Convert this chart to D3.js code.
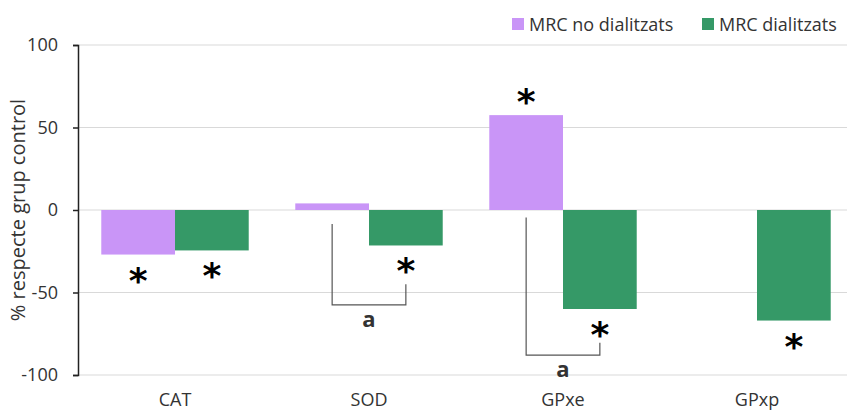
<!DOCTYPE html>
<html lang="ca">
<head>
<meta charset="UTF-8">
<title>% respecte grup control</title>
<style>
  body { margin: 0; background: #fff; }
  #chart { width: 847px; height: 413px; }
  text { font-family: "Open Sans", "DejaVu Sans", sans-serif; }
</style>
</head>
<body>
<div id="chart"></div>
<script src="https://d3js.org/d3.v7.min.js"></script>
<script>
// categories and series
const categories = ['CAT', 'SOD', 'GPxe', 'GPxp'];
const seriesNames = ['MRC no dialitzats', 'MRC dialitzats'];
const noDialitzats = [-27, 4, 57.5, null];
const dialitzats = [-24.5, -21.5, -60, -67];
const yTicks = [100, 50, 0, -50, -100];

// significance marks (* vs control) per series
const starNoDial = [true, false, true, false];
const starDial = [true, true, true, true];

// brackets "a" between series: [category, left top, right top, bottom]
const brackets = [
  ['SOD', -8.5, -45, -57.5],
  ['GPxe', -4.5, -80.5, -88]
];

const colors = ['#c995f7', '#359967'];
const textColor = '#333';

const W = 847, H = 413;
const svg = d3.select('#chart').append('svg')
  .attr('width', W).attr('height', H);

const x = d3.scaleBand().domain(categories).range([78, 854]).paddingInner(0.24).paddingOuter(0.12);
const xs = d3.scaleBand().domain(seriesNames).range([0, x.bandwidth()]);
const y = d3.scaleLinear().domain([-100, 100]).range([375, 45]);

// gridlines
svg.append('g').selectAll('line').data(yTicks).join('line')
  .attr('x1', 78).attr('x2', W)
  .attr('y1', d => y(d)).attr('y2', d => y(d))
  .attr('stroke', '#d9d9d9').attr('stroke-width', 1);

// y axis
const yAxis = svg.append('g').attr('transform', 'translate(78,0)')
  .call(d3.axisLeft(y).tickValues(yTicks).tickFormat(d => String(d)).tickSize(5).tickPadding(15));
yAxis.select('.domain').attr('stroke', '#222').attr('stroke-width', 1.5);
yAxis.selectAll('.tick line').attr('stroke', '#222').attr('stroke-width', 1.5);
yAxis.selectAll('.tick text')
  .style('font-size', '18px').style('fill', textColor)
  .style('font-family', '"Open Sans", sans-serif');

svg.append('text')
  .attr('transform', `translate(25,${y(0)}) rotate(-90)`)
  .attr('text-anchor', 'middle')
  .style('font-size', '20px').style('fill', textColor)
  .text('% respecte grup control');

// category labels
svg.append('g').selectAll('text').data(categories).join('text')
  .attr('x', d => x(d) + x.bandwidth() / 2)
  .attr('y', 406)
  .attr('text-anchor', 'middle')
  .style('font-size', '18px').style('fill', textColor)
  .text(d => d);

// bars
const series = [noDialitzats, dialitzats];
series.forEach((vals, si) => {
  const rows = categories.map((c, i) => ({ c, v: vals[i] })).filter(d => d.v !== null);
  svg.append('g').selectAll('rect').data(rows).join('rect')
    .attr('x', d => x(d.c) + xs(seriesNames[si]))
    .attr('width', xs.bandwidth())
    .attr('y', d => y(Math.max(0, d.v)))
    .attr('height', d => Math.abs(y(d.v) - y(0)))
    .attr('fill', colors[si]);
});

// asterisks
const stars = [];
[starNoDial, starDial].forEach((flags, si) => {
  flags.forEach((f, i) => {
    const v = series[si][i];
    if (f && v !== null) stars.push({ c: categories[i], s: seriesNames[si], v });
  });
});
svg.append('g').selectAll('text').data(stars).join('text')
  .attr('x', d => x(d.c) + xs(d.s) + xs.bandwidth() / 2)
  .attr('y', d => d.v > 0 ? y(d.v) - 1 : y(d.v) + 38)
  .attr('text-anchor', 'middle')
  .style('font-size', '36px')
  .style('font-weight', 'bold')
  .style('font-family', '"DejaVu Sans", sans-serif')
  .style('fill', '#000')
  .text('*');

// brackets
brackets.forEach(([c, lt, rt, bot]) => {
  const xl = x(c) + xs(seriesNames[0]) + xs.bandwidth() / 2;
  const xr = x(c) + xs(seriesNames[1]) + xs.bandwidth() / 2;
  const path = d3.path();
  path.moveTo(xl, y(lt));
  path.lineTo(xl, y(bot));
  path.lineTo(xr, y(bot));
  path.lineTo(xr, y(rt));
  svg.append('path').attr('d', path.toString())
    .attr('fill', 'none').attr('stroke', '#555').attr('stroke-width', 1.2);
  svg.append('text')
    .attr('x', (xl + xr) / 2).attr('y', y(bot) + 22)
    .attr('text-anchor', 'middle')
    .style('font-size', '22px').style('font-weight', 'bold').style('fill', textColor)
    .text('a');
});

// legend
const legend = svg.append('g').attr('transform', 'translate(512,18)');
const lx = [0, 190];
seriesNames.forEach((n, i) => {
  legend.append('rect').attr('x', lx[i]).attr('y', 0).attr('width', 12).attr('height', 12).attr('fill', colors[i]);
  legend.append('text').attr('x', lx[i] + 17).attr('y', 13)
    .style('font-size', '18px').style('fill', textColor).text(n);
});
</script>
</body>
</html>
